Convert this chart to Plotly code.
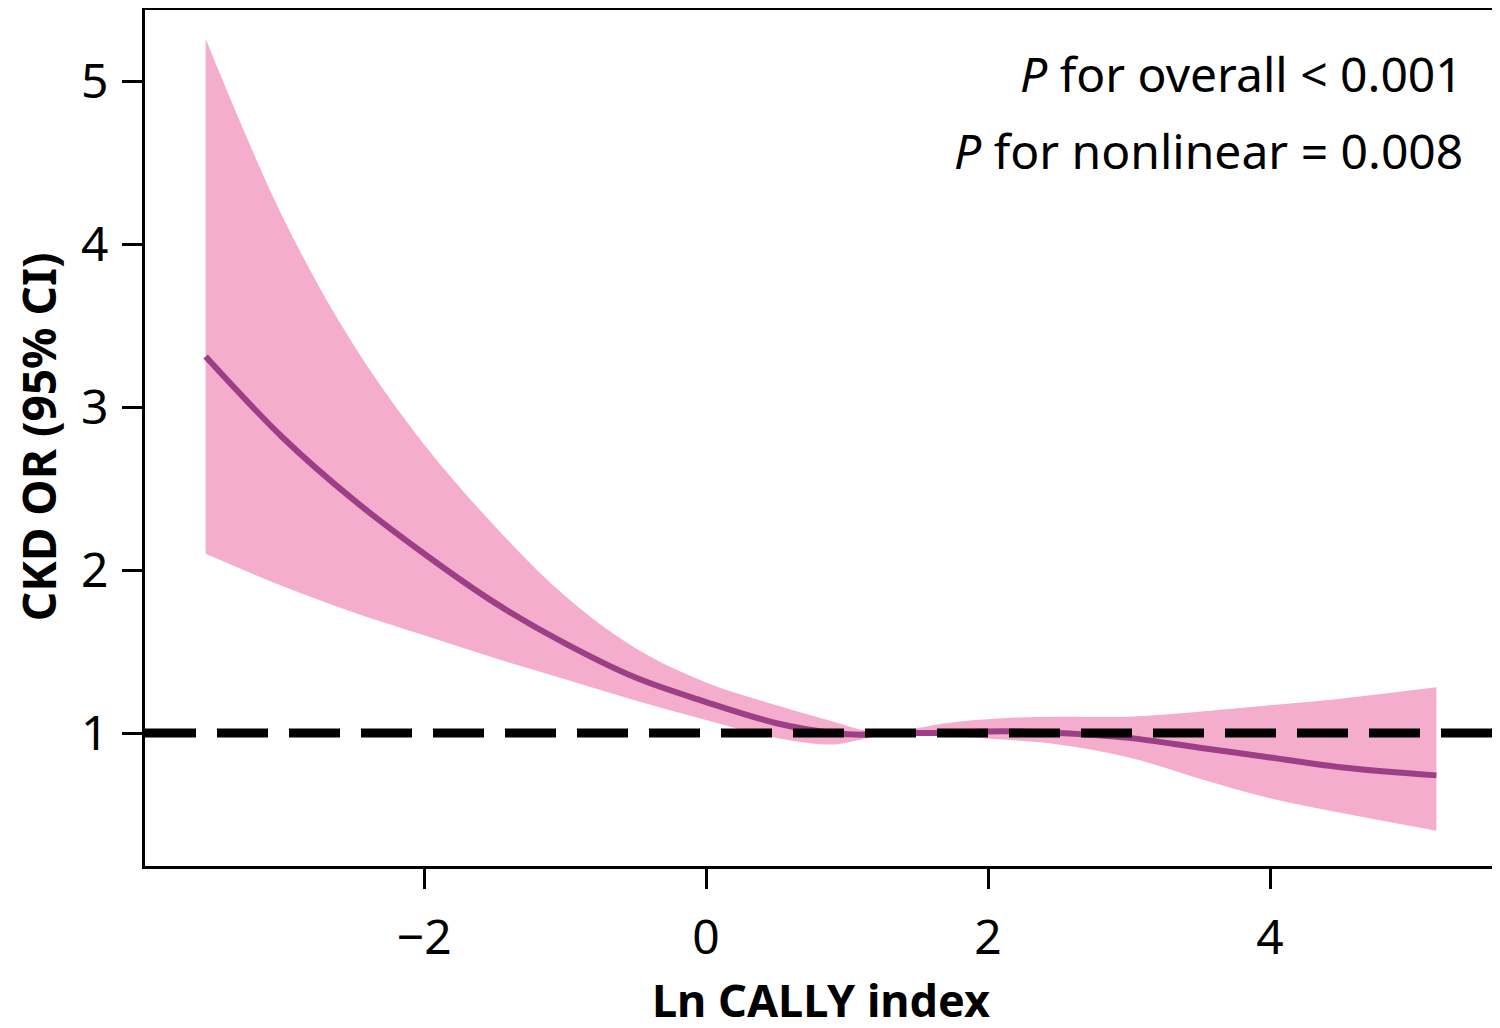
import plotly.graph_objects as go

# RCS curve: Ln CALLY index vs CKD OR (95% CI)
ln_cally = [-3.55, -3.0, -2.5, -2.0, -1.5, -1.0, -0.5, 0.0, 0.5, 0.9, 1.1, 1.3, 1.5,
            1.7, 2.1, 2.5, 3.0, 3.5, 4.0, 4.5, 5.18]
or_est = [3.31, 2.81, 2.43, 2.10, 1.80, 1.55, 1.34, 1.19, 1.06, 1.00, 0.99, 1.00, 1.00,
          1.00, 1.01, 1.00, 0.97, 0.91, 0.85, 0.79, 0.74]
or_upper = [5.26, 4.16, 3.38, 2.77, 2.27, 1.84, 1.52, 1.31, 1.17, 1.07, 1.02, 1.00, 1.03,
            1.06, 1.09, 1.10, 1.10, 1.13, 1.17, 1.21, 1.28]
or_lower = [2.10, 1.90, 1.74, 1.60, 1.46, 1.33, 1.20, 1.08, 0.97, 0.93, 0.96, 1.00, 0.99,
            0.98, 0.96, 0.93, 0.85, 0.72, 0.60, 0.51, 0.40]

x_ticks = [-2, 0, 2, 4]
y_ticks = [1, 2, 3, 4, 5]
p_texts = ["<i>P</i> for overall < 0.001", "<i>P</i> for nonlinear = 0.008"]

band_col = "#F5ADCD"
line_col = "#9D3F86"
font = "Noto Sans"

fig = go.Figure()

fig.add_trace(go.Scatter(x=ln_cally, y=or_upper, mode="lines", line=dict(width=0, shape="spline"),
                         showlegend=False, hoverinfo="skip"))
fig.add_trace(go.Scatter(x=ln_cally, y=or_lower, mode="lines", line=dict(width=0, shape="spline"),
                         fill="tonexty", fillcolor=band_col, showlegend=False, hoverinfo="skip"))
fig.add_trace(go.Scatter(x=ln_cally, y=or_est, mode="lines",
                         line=dict(color=line_col, width=6, shape="spline"), showlegend=False))

# reference line at OR = 1
fig.add_shape(type="line", xref="x domain", yref="y", x0=0, x1=1, y0=1, y1=1,
              line=dict(color="black", width=9, dash="51px,21px"), layer="above")

for i, t in enumerate(p_texts):
    fig.add_annotation(text=t, xref="paper", yref="paper", x=0.976, y=0.926 - i * 0.09,
                       xanchor="right", yanchor="middle", showarrow=False,
                       font=dict(family=font, size=48, color="black"))

# y axis title placed by hand so it sits near the left edge
fig.add_annotation(text="<b>CKD OR (95% CI)</b>", xref="paper", yref="paper",
                   x=-0.079, y=0.501, xanchor="center", yanchor="middle", textangle=-90,
                   showarrow=False, font=dict(family=font, size=46, color="black"))

axis_common = dict(showline=True, linecolor="black", linewidth=3, mirror=True,
                   ticks="outside", ticklen=20, tickwidth=2.5, tickcolor="black",
                   showgrid=False, zeroline=False, automargin=False,
                   tickfont=dict(family=font, size=48, color="black"))

fig.update_xaxes(range=[-3.98, 5.61], tickvals=x_ticks,
                 ticktext=[str(v).replace("-", "\u2212") for v in x_ticks],
                 ticklabelstandoff=7,
                 title=dict(text="<b>Ln CALLY index</b>", standoff=19,
                            font=dict(family=font, size=45, color="black")),
                 **axis_common)
fig.update_yaxes(range=[0.184, 5.436], tickvals=y_ticks, ticklabelstandoff=4,
                 **axis_common)

fig.update_layout(width=1500, height=1028, margin=dict(l=137, r=11, t=2, b=170),
                  plot_bgcolor="white", paper_bgcolor="white")

fig.write_html("out.html")
